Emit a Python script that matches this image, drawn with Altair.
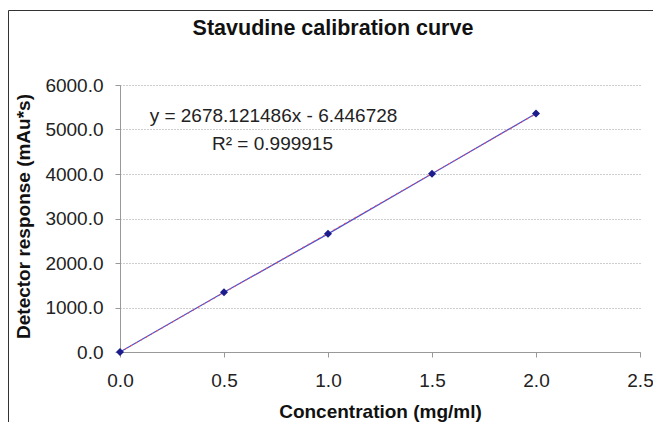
import altair as alt
import pandas as pd

# Data
conc = [0.0, 0.5, 1.0, 1.5, 2.0]
resp = [0.0, 1343.0, 2655.0, 4005.0, 5360.0]
x_ticks = [0.0, 0.5, 1.0, 1.5, 2.0, 2.5]
y_ticks = [0, 1000, 2000, 3000, 4000, 5000, 6000]

title_text = "Stavudine calibration curve"
eq_text = "y = 2678.121486x - 6.446728"
r2_text = "R² = 0.999915"
x_title = "Concentration (mg/ml)"
y_title = "Detector response (mAu*s)"

df = pd.DataFrame({"conc": conc, "resp": resp})

FONT = "Liberation Sans"
LEFT = 112
W, H = 520, 267

xs = alt.Scale(domain=[0, 2.5], nice=False, zero=False)
ys = alt.Scale(domain=[0, 6000], nice=False)

x_enc = alt.X(
    "conc:Q", scale=xs,
    axis=alt.Axis(
        values=x_ticks, format=".1f", title=x_title, grid=False,
        domainColor="#999999", tickColor="#999999", tickSize=5,
        labelFont=FONT, labelFontSize=19, labelColor="#222222",
        labelBaseline="alphabetic", labelPadding=29, labelFlush=False,
        titleFont=FONT, titleFontSize=19, titleFontWeight="bold", titleColor="#111111",
        titleX=W / 2, titleY=65, titleBaseline="alphabetic", titleAlign="center",
    ),
)
y_enc = alt.Y(
    "resp:Q", scale=ys,
    axis=alt.Axis(
        values=y_ticks, format=".1f", title=y_title, grid=True,
        gridColor="#9a9a9a", gridDash=[1, 2], gridWidth=1,
        domainColor="#999999", tickColor="#999999", tickSize=5,
        labelFont=FONT, labelFontSize=19, labelColor="#222222",
        labelPadding=12, labelFlush=False,
        titleFont=FONT, titleFontSize=19, titleFontWeight="bold", titleColor="#111111",
        titleX=-97, titleY=131, titleAngle=270, titleAlign="center",
        titleBaseline="middle",
    ),
)

base = alt.Chart(df)

series_line = base.mark_line(color="#5050cc", strokeWidth=1.3).encode(x=x_enc, y=y_enc)

trend = base.transform_regression("conc", "resp", extent=[0, 2]).mark_line(
    color="#ff4d4d", strokeWidth=1, strokeDash=[2, 4]
).encode(x=alt.X("conc:Q", scale=xs), y=alt.Y("resp:Q", scale=ys))

points = base.mark_point(
    shape="diamond", filled=True, size=64, color="#1c1c8c", opacity=1
).encode(x=alt.X("conc:Q", scale=xs), y=alt.Y("resp:Q", scale=ys))

ann = pd.DataFrame({
    "t": [eq_text, r2_text],
    "px": [153.5, 152.5],
    "py": [37, 65],
})
annotations = alt.Chart(ann).mark_text(
    font=FONT, fontSize=19, color="#222222", align="center", baseline="alphabetic"
).encode(text="t:N", x=alt.X("px:Q", scale=None), y=alt.Y("py:Q", scale=None))

title_mark = alt.Chart(pd.DataFrame({"t": [title_text]})).mark_text(
    font=FONT, fontSize=21.5, fontWeight="bold", color="#111111",
    align="center", baseline="alphabetic",
).encode(text="t:N", x=alt.value(213), y=alt.value(-50))

frame_v = alt.Chart(pd.DataFrame({"a": [0]})).mark_rule(color="#333333", strokeWidth=1).encode(
    x=alt.value(-LEFT + 0.5), y=alt.value(-74.5), y2=alt.value(345)
)
frame_h = alt.Chart(pd.DataFrame({"a": [0]})).mark_rule(color="#333333", strokeWidth=1).encode(
    x=alt.value(-LEFT + 0.5), x2=alt.value(W + 20), y=alt.value(-74.5)
)

chart = alt.layer(
    frame_v, frame_h, series_line, trend, points, annotations, title_mark
).properties(
    width=W, height=H,
    autosize=alt.AutoSizeParams(type="none"),
    padding={"left": LEFT, "top": 77, "right": 13, "bottom": 70},
    background="white",
).configure_view(stroke=None)

chart.save("out.html", embed_options={"renderer": "svg", "actions": False})
